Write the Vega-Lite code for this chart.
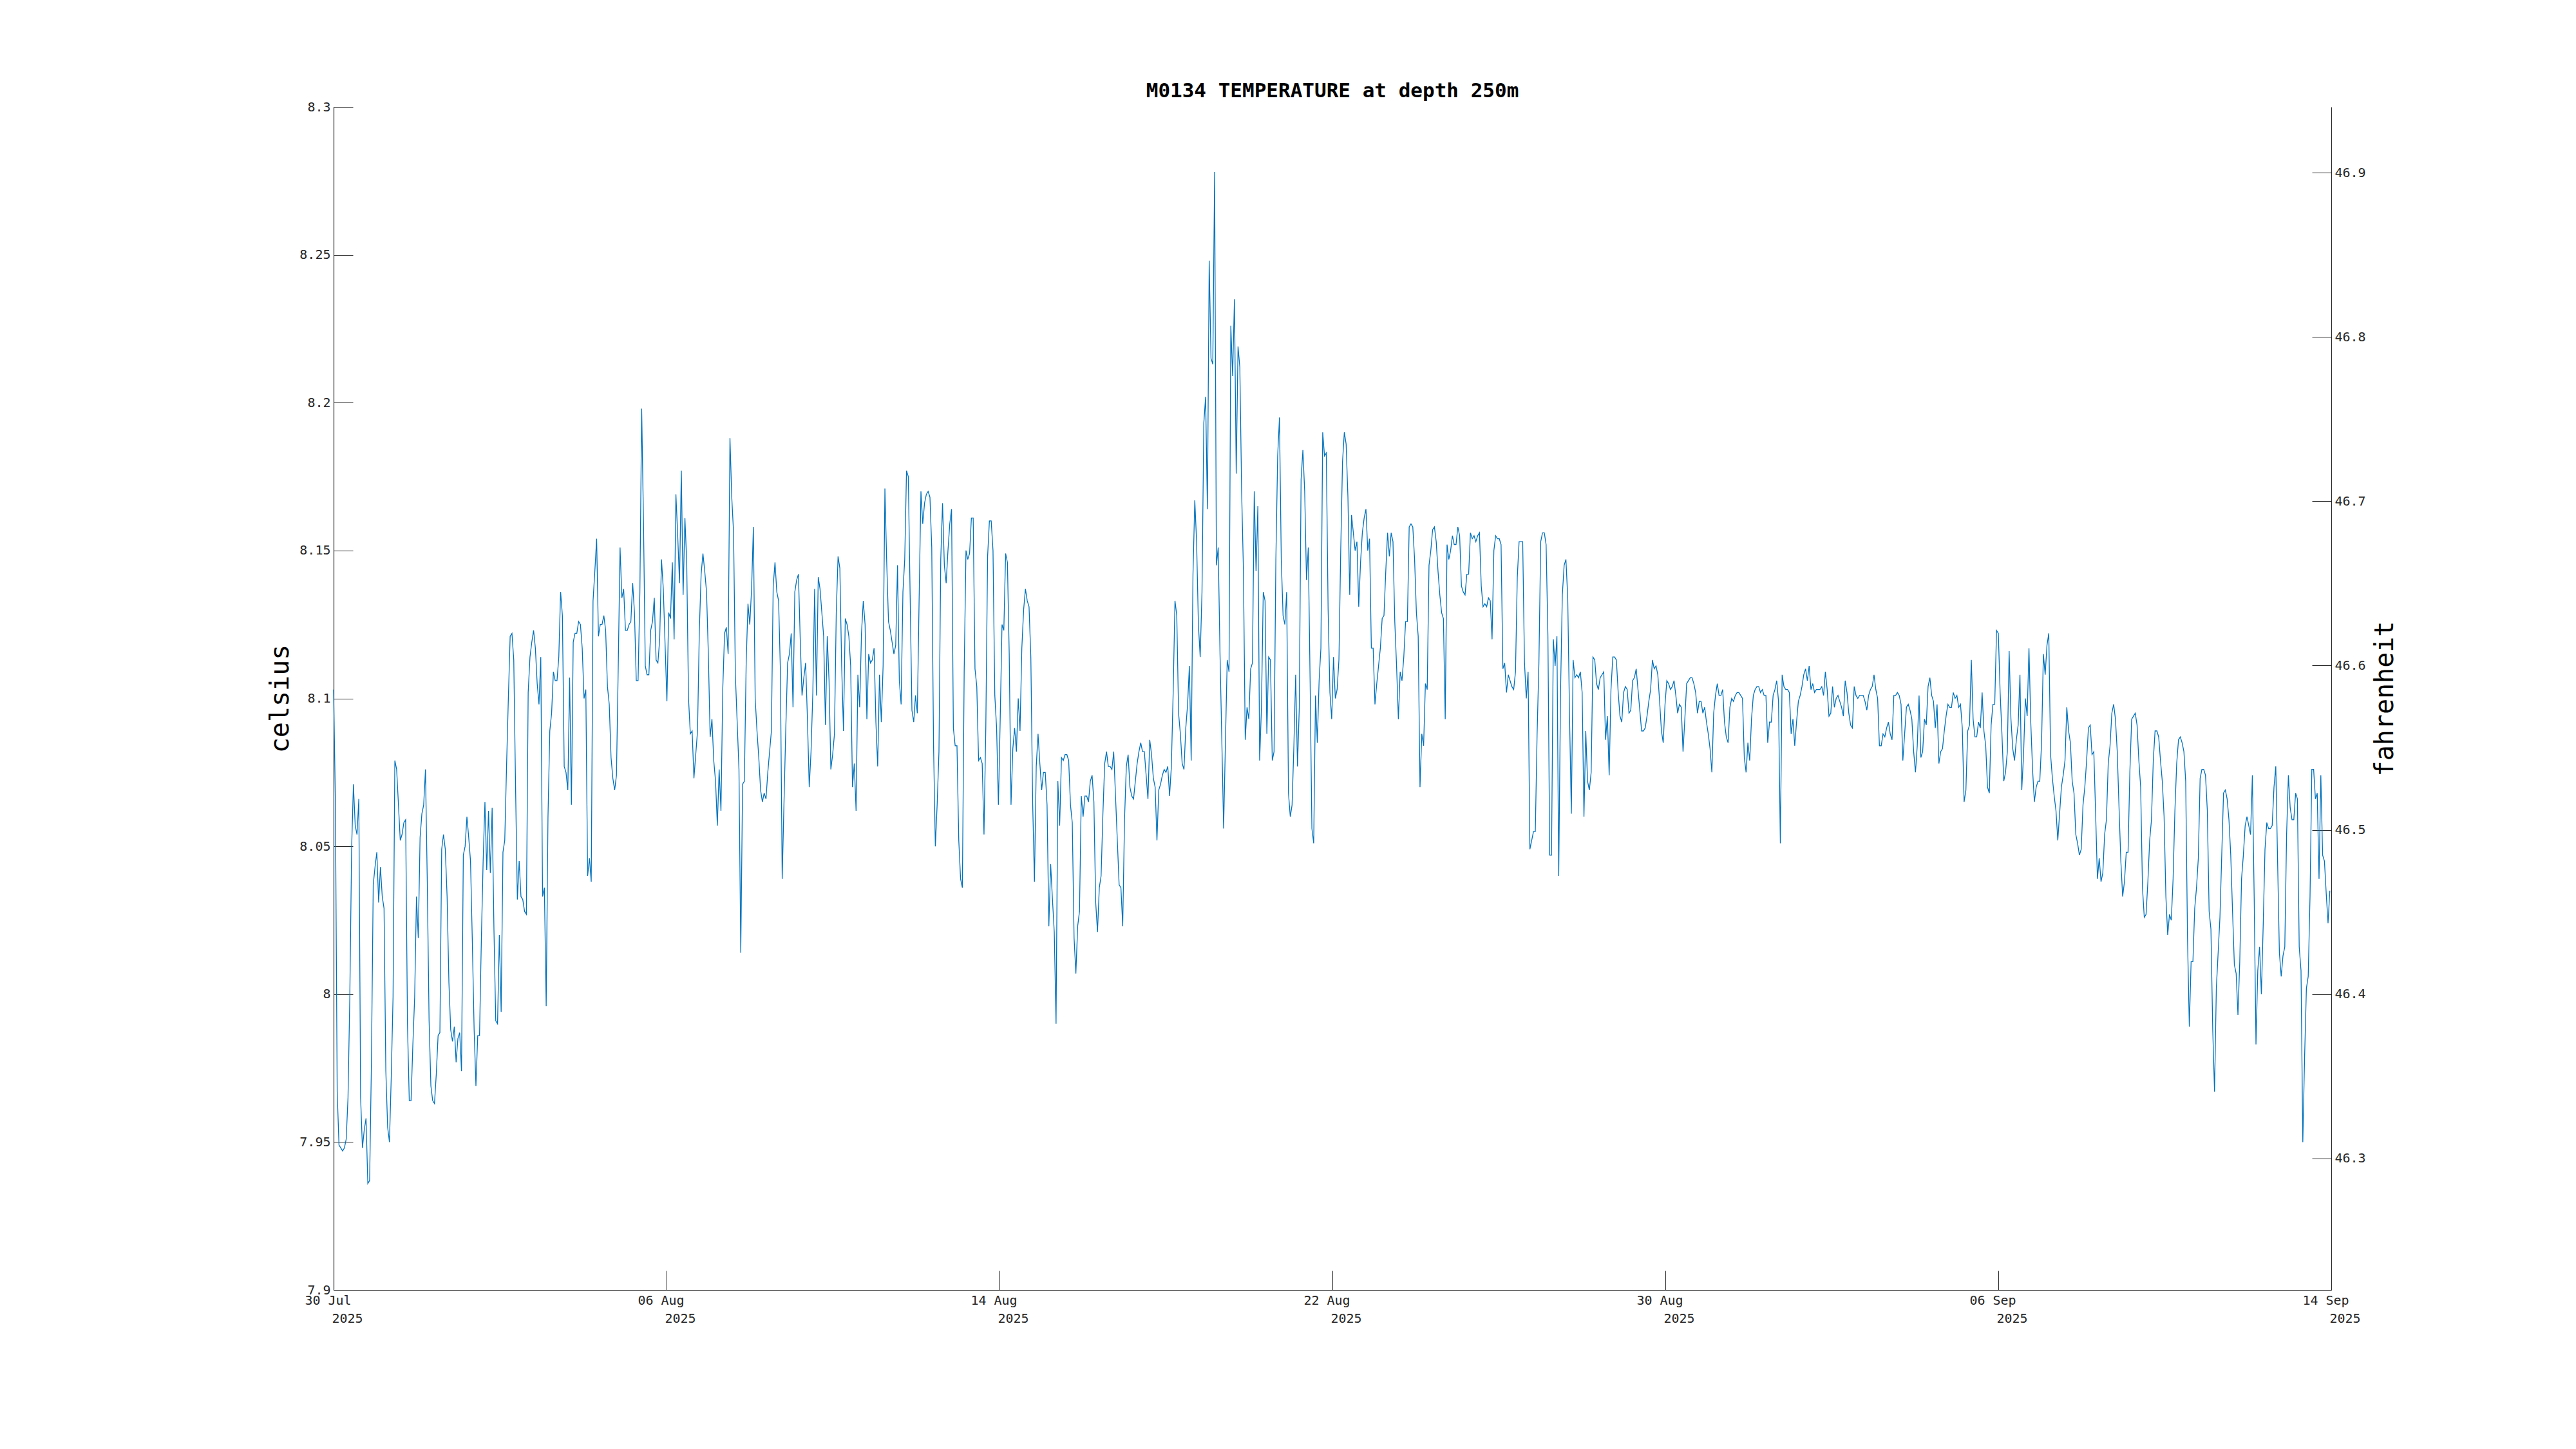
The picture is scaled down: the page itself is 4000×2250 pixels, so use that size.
{
"$schema":"https://vega.github.io/schema/vega-lite/v6.json",
"width":3102,"height":1837,
"autosize":{"type":"none"},
"padding":{"left":518,"top":166,"right":380,"bottom":247},
"background":"white",
"config":{"view":{"stroke":null},"font":"DejaVu Sans Mono"},
"title":{"text":"M0134 TEMPERATURE at depth 250m","font":"DejaVu Sans Mono","fontSize":31,"fontWeight":"bold","color":"#000000","anchor":"middle","frame":"group","baseline":"alphabetic","offset":-26},
"layer":[
{
"data":{"format":{"parse":{"t":"date:'%Y-%m-%d %H'"}},"values":[
{"t":"2025-07-30 06","c":8.103},{"t":"2025-07-30 07","c":8.065},{"t":"2025-07-30 08","c":7.967},{"t":"2025-07-30 09","c":7.949},{"t":"2025-07-30 10","c":7.948},{"t":"2025-07-30 11","c":7.947},{"t":"2025-07-30 12","c":7.948},{"t":"2025-07-30 13","c":7.951},{"t":"2025-07-30 14","c":7.965},{"t":"2025-07-30 15","c":7.999},{"t":"2025-07-30 16","c":8.049},{"t":"2025-07-30 17","c":8.071},{"t":"2025-07-30 18","c":8.057},{"t":"2025-07-30 19","c":8.054},{"t":"2025-07-30 20","c":8.066},{"t":"2025-07-30 21","c":7.965},{"t":"2025-07-30 22","c":7.948},{"t":"2025-07-30 23","c":7.954},
{"t":"2025-07-31 00","c":7.958},{"t":"2025-07-31 01","c":7.936},{"t":"2025-07-31 02","c":7.937},{"t":"2025-07-31 03","c":7.977},{"t":"2025-07-31 04","c":8.037},{"t":"2025-07-31 05","c":8.043},{"t":"2025-07-31 06","c":8.048},{"t":"2025-07-31 07","c":8.031},{"t":"2025-07-31 08","c":8.043},{"t":"2025-07-31 09","c":8.033},{"t":"2025-07-31 10","c":8.029},{"t":"2025-07-31 11","c":7.974},{"t":"2025-07-31 12","c":7.955},{"t":"2025-07-31 13","c":7.950},{"t":"2025-07-31 14","c":7.972},{"t":"2025-07-31 15","c":7.999},{"t":"2025-07-31 16","c":8.079},{"t":"2025-07-31 17","c":8.076},{"t":"2025-07-31 18","c":8.064},{"t":"2025-07-31 19","c":8.052},{"t":"2025-07-31 20","c":8.054},{"t":"2025-07-31 21","c":8.058},{"t":"2025-07-31 22","c":8.059},{"t":"2025-07-31 23","c":7.990},
{"t":"2025-08-01 00","c":7.964},{"t":"2025-08-01 01","c":7.964},{"t":"2025-08-01 02","c":7.983},{"t":"2025-08-01 03","c":7.999},{"t":"2025-08-01 04","c":8.033},{"t":"2025-08-01 05","c":8.019},{"t":"2025-08-01 06","c":8.053},{"t":"2025-08-01 07","c":8.061},{"t":"2025-08-01 08","c":8.064},{"t":"2025-08-01 09","c":8.076},{"t":"2025-08-01 10","c":8.038},{"t":"2025-08-01 11","c":7.991},{"t":"2025-08-01 12","c":7.969},{"t":"2025-08-01 13","c":7.964},{"t":"2025-08-01 14","c":7.963},{"t":"2025-08-01 15","c":7.973},{"t":"2025-08-01 16","c":7.986},{"t":"2025-08-01 17","c":7.987},{"t":"2025-08-01 18","c":8.049},{"t":"2025-08-01 19","c":8.054},{"t":"2025-08-01 20","c":8.049},{"t":"2025-08-01 21","c":8.033},{"t":"2025-08-01 22","c":8.004},{"t":"2025-08-01 23","c":7.988},
{"t":"2025-08-02 00","c":7.984},{"t":"2025-08-02 01","c":7.989},{"t":"2025-08-02 02","c":7.977},{"t":"2025-08-02 03","c":7.985},{"t":"2025-08-02 04","c":7.987},{"t":"2025-08-02 05","c":7.974},{"t":"2025-08-02 06","c":8.047},{"t":"2025-08-02 07","c":8.050},{"t":"2025-08-02 08","c":8.060},{"t":"2025-08-02 09","c":8.053},{"t":"2025-08-02 10","c":8.045},{"t":"2025-08-02 11","c":8.018},{"t":"2025-08-02 12","c":7.988},{"t":"2025-08-02 13","c":7.969},{"t":"2025-08-02 14","c":7.986},{"t":"2025-08-02 15","c":7.986},{"t":"2025-08-02 16","c":8.018},{"t":"2025-08-02 17","c":8.045},{"t":"2025-08-02 18","c":8.065},{"t":"2025-08-02 19","c":8.042},{"t":"2025-08-02 20","c":8.062},{"t":"2025-08-02 21","c":8.041},{"t":"2025-08-02 22","c":8.063},{"t":"2025-08-02 23","c":8.022},
{"t":"2025-08-03 00","c":7.991},{"t":"2025-08-03 01","c":7.990},{"t":"2025-08-03 02","c":8.020},{"t":"2025-08-03 03","c":7.994},{"t":"2025-08-03 04","c":8.048},{"t":"2025-08-03 05","c":8.052},{"t":"2025-08-03 06","c":8.077},{"t":"2025-08-03 07","c":8.100},{"t":"2025-08-03 08","c":8.121},{"t":"2025-08-03 09","c":8.122},{"t":"2025-08-03 10","c":8.113},{"t":"2025-08-03 11","c":8.070},{"t":"2025-08-03 12","c":8.032},{"t":"2025-08-03 13","c":8.045},{"t":"2025-08-03 14","c":8.033},{"t":"2025-08-03 15","c":8.032},{"t":"2025-08-03 16","c":8.028},{"t":"2025-08-03 17","c":8.027},{"t":"2025-08-03 18","c":8.102},{"t":"2025-08-03 19","c":8.114},{"t":"2025-08-03 20","c":8.119},{"t":"2025-08-03 21","c":8.123},{"t":"2025-08-03 22","c":8.117},{"t":"2025-08-03 23","c":8.105},
{"t":"2025-08-04 00","c":8.098},{"t":"2025-08-04 01","c":8.114},{"t":"2025-08-04 02","c":8.033},{"t":"2025-08-04 03","c":8.036},{"t":"2025-08-04 04","c":7.996},{"t":"2025-08-04 05","c":8.060},{"t":"2025-08-04 06","c":8.089},{"t":"2025-08-04 07","c":8.095},{"t":"2025-08-04 08","c":8.109},{"t":"2025-08-04 09","c":8.106},{"t":"2025-08-04 10","c":8.106},{"t":"2025-08-04 11","c":8.114},{"t":"2025-08-04 12","c":8.136},{"t":"2025-08-04 13","c":8.128},{"t":"2025-08-04 14","c":8.077},{"t":"2025-08-04 15","c":8.075},{"t":"2025-08-04 16","c":8.069},{"t":"2025-08-04 17","c":8.107},{"t":"2025-08-04 18","c":8.064},{"t":"2025-08-04 19","c":8.119},{"t":"2025-08-04 20","c":8.122},{"t":"2025-08-04 21","c":8.122},{"t":"2025-08-04 22","c":8.126},{"t":"2025-08-04 23","c":8.125},
{"t":"2025-08-05 00","c":8.117},{"t":"2025-08-05 01","c":8.100},{"t":"2025-08-05 02","c":8.103},{"t":"2025-08-05 03","c":8.040},{"t":"2025-08-05 04","c":8.046},{"t":"2025-08-05 05","c":8.038},{"t":"2025-08-05 06","c":8.133},{"t":"2025-08-05 07","c":8.143},{"t":"2025-08-05 08","c":8.154},{"t":"2025-08-05 09","c":8.121},{"t":"2025-08-05 10","c":8.125},{"t":"2025-08-05 11","c":8.125},{"t":"2025-08-05 12","c":8.128},{"t":"2025-08-05 13","c":8.123},{"t":"2025-08-05 14","c":8.104},{"t":"2025-08-05 15","c":8.098},{"t":"2025-08-05 16","c":8.080},{"t":"2025-08-05 17","c":8.073},{"t":"2025-08-05 18","c":8.069},{"t":"2025-08-05 19","c":8.074},{"t":"2025-08-05 20","c":8.111},{"t":"2025-08-05 21","c":8.151},{"t":"2025-08-05 22","c":8.134},{"t":"2025-08-05 23","c":8.137},
{"t":"2025-08-06 00","c":8.123},{"t":"2025-08-06 01","c":8.123},{"t":"2025-08-06 02","c":8.125},{"t":"2025-08-06 03","c":8.126},{"t":"2025-08-06 04","c":8.139},{"t":"2025-08-06 05","c":8.129},{"t":"2025-08-06 06","c":8.106},{"t":"2025-08-06 07","c":8.106},{"t":"2025-08-06 08","c":8.136},{"t":"2025-08-06 09","c":8.198},{"t":"2025-08-06 10","c":8.160},{"t":"2025-08-06 11","c":8.111},{"t":"2025-08-06 12","c":8.108},{"t":"2025-08-06 13","c":8.108},{"t":"2025-08-06 14","c":8.123},{"t":"2025-08-06 15","c":8.126},{"t":"2025-08-06 16","c":8.134},{"t":"2025-08-06 17","c":8.113},{"t":"2025-08-06 18","c":8.112},{"t":"2025-08-06 19","c":8.120},{"t":"2025-08-06 20","c":8.147},{"t":"2025-08-06 21","c":8.137},{"t":"2025-08-06 22","c":8.118},{"t":"2025-08-06 23","c":8.099},
{"t":"2025-08-07 00","c":8.129},{"t":"2025-08-07 01","c":8.127},{"t":"2025-08-07 02","c":8.146},{"t":"2025-08-07 03","c":8.120},{"t":"2025-08-07 04","c":8.169},{"t":"2025-08-07 05","c":8.155},{"t":"2025-08-07 06","c":8.139},{"t":"2025-08-07 07","c":8.177},{"t":"2025-08-07 08","c":8.135},{"t":"2025-08-07 09","c":8.161},{"t":"2025-08-07 10","c":8.146},{"t":"2025-08-07 11","c":8.100},{"t":"2025-08-07 12","c":8.088},{"t":"2025-08-07 13","c":8.089},{"t":"2025-08-07 14","c":8.073},{"t":"2025-08-07 15","c":8.081},{"t":"2025-08-07 16","c":8.089},{"t":"2025-08-07 17","c":8.123},{"t":"2025-08-07 18","c":8.142},{"t":"2025-08-07 19","c":8.149},{"t":"2025-08-07 20","c":8.143},{"t":"2025-08-07 21","c":8.136},{"t":"2025-08-07 22","c":8.115},{"t":"2025-08-07 23","c":8.087},
{"t":"2025-08-08 00","c":8.093},{"t":"2025-08-08 01","c":8.079},{"t":"2025-08-08 02","c":8.072},{"t":"2025-08-08 03","c":8.057},{"t":"2025-08-08 04","c":8.076},{"t":"2025-08-08 05","c":8.062},{"t":"2025-08-08 06","c":8.103},{"t":"2025-08-08 07","c":8.122},{"t":"2025-08-08 08","c":8.124},{"t":"2025-08-08 09","c":8.115},{"t":"2025-08-08 10","c":8.188},{"t":"2025-08-08 11","c":8.168},{"t":"2025-08-08 12","c":8.156},{"t":"2025-08-08 13","c":8.108},{"t":"2025-08-08 14","c":8.092},{"t":"2025-08-08 15","c":8.076},{"t":"2025-08-08 16","c":8.014},{"t":"2025-08-08 17","c":8.071},{"t":"2025-08-08 18","c":8.072},{"t":"2025-08-08 19","c":8.112},{"t":"2025-08-08 20","c":8.132},{"t":"2025-08-08 21","c":8.125},{"t":"2025-08-08 22","c":8.137},{"t":"2025-08-08 23","c":8.158},
{"t":"2025-08-09 00","c":8.100},{"t":"2025-08-09 01","c":8.089},{"t":"2025-08-09 02","c":8.080},{"t":"2025-08-09 03","c":8.069},{"t":"2025-08-09 04","c":8.065},{"t":"2025-08-09 05","c":8.068},{"t":"2025-08-09 06","c":8.066},{"t":"2025-08-09 07","c":8.075},{"t":"2025-08-09 08","c":8.082},{"t":"2025-08-09 09","c":8.089},{"t":"2025-08-09 10","c":8.138},{"t":"2025-08-09 11","c":8.146},{"t":"2025-08-09 12","c":8.136},{"t":"2025-08-09 13","c":8.133},{"t":"2025-08-09 14","c":8.109},{"t":"2025-08-09 15","c":8.039},{"t":"2025-08-09 16","c":8.065},{"t":"2025-08-09 17","c":8.090},{"t":"2025-08-09 18","c":8.112},{"t":"2025-08-09 19","c":8.115},{"t":"2025-08-09 20","c":8.122},{"t":"2025-08-09 21","c":8.097},{"t":"2025-08-09 22","c":8.136},{"t":"2025-08-09 23","c":8.140},
{"t":"2025-08-10 00","c":8.142},{"t":"2025-08-10 01","c":8.120},{"t":"2025-08-10 02","c":8.101},{"t":"2025-08-10 03","c":8.107},{"t":"2025-08-10 04","c":8.112},{"t":"2025-08-10 05","c":8.093},{"t":"2025-08-10 06","c":8.070},{"t":"2025-08-10 07","c":8.082},{"t":"2025-08-10 08","c":8.102},{"t":"2025-08-10 09","c":8.137},{"t":"2025-08-10 10","c":8.101},{"t":"2025-08-10 11","c":8.141},{"t":"2025-08-10 12","c":8.137},{"t":"2025-08-10 13","c":8.129},{"t":"2025-08-10 14","c":8.121},{"t":"2025-08-10 15","c":8.091},{"t":"2025-08-10 16","c":8.121},{"t":"2025-08-10 17","c":8.106},{"t":"2025-08-10 18","c":8.076},{"t":"2025-08-10 19","c":8.081},{"t":"2025-08-10 20","c":8.088},{"t":"2025-08-10 21","c":8.129},{"t":"2025-08-10 22","c":8.148},{"t":"2025-08-10 23","c":8.144},
{"t":"2025-08-11 00","c":8.111},{"t":"2025-08-11 01","c":8.089},{"t":"2025-08-11 02","c":8.127},{"t":"2025-08-11 03","c":8.125},{"t":"2025-08-11 04","c":8.121},{"t":"2025-08-11 05","c":8.111},{"t":"2025-08-11 06","c":8.070},{"t":"2025-08-11 07","c":8.078},{"t":"2025-08-11 08","c":8.062},{"t":"2025-08-11 09","c":8.108},{"t":"2025-08-11 10","c":8.097},{"t":"2025-08-11 11","c":8.122},{"t":"2025-08-11 12","c":8.133},{"t":"2025-08-11 13","c":8.125},{"t":"2025-08-11 14","c":8.093},{"t":"2025-08-11 15","c":8.115},{"t":"2025-08-11 16","c":8.112},{"t":"2025-08-11 17","c":8.113},{"t":"2025-08-11 18","c":8.117},{"t":"2025-08-11 19","c":8.092},{"t":"2025-08-11 20","c":8.077},{"t":"2025-08-11 21","c":8.108},{"t":"2025-08-11 22","c":8.092},{"t":"2025-08-11 23","c":8.111},
{"t":"2025-08-12 00","c":8.171},{"t":"2025-08-12 01","c":8.146},{"t":"2025-08-12 02","c":8.126},{"t":"2025-08-12 03","c":8.123},{"t":"2025-08-12 04","c":8.119},{"t":"2025-08-12 05","c":8.115},{"t":"2025-08-12 06","c":8.118},{"t":"2025-08-12 07","c":8.145},{"t":"2025-08-12 08","c":8.106},{"t":"2025-08-12 09","c":8.098},{"t":"2025-08-12 10","c":8.136},{"t":"2025-08-12 11","c":8.147},{"t":"2025-08-12 12","c":8.177},{"t":"2025-08-12 13","c":8.175},{"t":"2025-08-12 14","c":8.135},{"t":"2025-08-12 15","c":8.096},{"t":"2025-08-12 16","c":8.092},{"t":"2025-08-12 17","c":8.101},{"t":"2025-08-12 18","c":8.095},{"t":"2025-08-12 19","c":8.134},{"t":"2025-08-12 20","c":8.170},{"t":"2025-08-12 21","c":8.159},{"t":"2025-08-12 22","c":8.166},{"t":"2025-08-12 23","c":8.169},
{"t":"2025-08-13 00","c":8.170},{"t":"2025-08-13 01","c":8.168},{"t":"2025-08-13 02","c":8.151},{"t":"2025-08-13 03","c":8.084},{"t":"2025-08-13 04","c":8.050},{"t":"2025-08-13 05","c":8.064},{"t":"2025-08-13 06","c":8.082},{"t":"2025-08-13 07","c":8.147},{"t":"2025-08-13 08","c":8.166},{"t":"2025-08-13 09","c":8.145},{"t":"2025-08-13 10","c":8.139},{"t":"2025-08-13 11","c":8.150},{"t":"2025-08-13 12","c":8.159},{"t":"2025-08-13 13","c":8.164},{"t":"2025-08-13 14","c":8.090},{"t":"2025-08-13 15","c":8.084},{"t":"2025-08-13 16","c":8.084},{"t":"2025-08-13 17","c":8.052},{"t":"2025-08-13 18","c":8.039},{"t":"2025-08-13 19","c":8.036},{"t":"2025-08-13 20","c":8.109},{"t":"2025-08-13 21","c":8.150},{"t":"2025-08-13 22","c":8.147},{"t":"2025-08-13 23","c":8.149},
{"t":"2025-08-14 00","c":8.161},{"t":"2025-08-14 01","c":8.161},{"t":"2025-08-14 02","c":8.110},{"t":"2025-08-14 03","c":8.104},{"t":"2025-08-14 04","c":8.079},{"t":"2025-08-14 05","c":8.080},{"t":"2025-08-14 06","c":8.078},{"t":"2025-08-14 07","c":8.054},{"t":"2025-08-14 08","c":8.090},{"t":"2025-08-14 09","c":8.148},{"t":"2025-08-14 10","c":8.160},{"t":"2025-08-14 11","c":8.160},{"t":"2025-08-14 12","c":8.150},{"t":"2025-08-14 13","c":8.101},{"t":"2025-08-14 14","c":8.090},{"t":"2025-08-14 15","c":8.064},{"t":"2025-08-14 16","c":8.093},{"t":"2025-08-14 17","c":8.125},{"t":"2025-08-14 18","c":8.123},{"t":"2025-08-14 19","c":8.149},{"t":"2025-08-14 20","c":8.146},{"t":"2025-08-14 21","c":8.115},{"t":"2025-08-14 22","c":8.064},{"t":"2025-08-14 23","c":8.083},
{"t":"2025-08-15 00","c":8.090},{"t":"2025-08-15 01","c":8.082},{"t":"2025-08-15 02","c":8.100},{"t":"2025-08-15 03","c":8.089},{"t":"2025-08-15 04","c":8.117},{"t":"2025-08-15 05","c":8.130},{"t":"2025-08-15 06","c":8.137},{"t":"2025-08-15 07","c":8.133},{"t":"2025-08-15 08","c":8.131},{"t":"2025-08-15 09","c":8.114},{"t":"2025-08-15 10","c":8.065},{"t":"2025-08-15 11","c":8.038},{"t":"2025-08-15 12","c":8.077},{"t":"2025-08-15 13","c":8.088},{"t":"2025-08-15 14","c":8.078},{"t":"2025-08-15 15","c":8.069},{"t":"2025-08-15 16","c":8.075},{"t":"2025-08-15 17","c":8.075},{"t":"2025-08-15 18","c":8.064},{"t":"2025-08-15 19","c":8.023},{"t":"2025-08-15 20","c":8.044},{"t":"2025-08-15 21","c":8.032},{"t":"2025-08-15 22","c":8.021},{"t":"2025-08-15 23","c":7.990},
{"t":"2025-08-16 00","c":8.072},{"t":"2025-08-16 01","c":8.057},{"t":"2025-08-16 02","c":8.080},{"t":"2025-08-16 03","c":8.079},{"t":"2025-08-16 04","c":8.081},{"t":"2025-08-16 05","c":8.081},{"t":"2025-08-16 06","c":8.079},{"t":"2025-08-16 07","c":8.064},{"t":"2025-08-16 08","c":8.058},{"t":"2025-08-16 09","c":8.019},{"t":"2025-08-16 10","c":8.007},{"t":"2025-08-16 11","c":8.023},{"t":"2025-08-16 12","c":8.028},{"t":"2025-08-16 13","c":8.067},{"t":"2025-08-16 14","c":8.060},{"t":"2025-08-16 15","c":8.067},{"t":"2025-08-16 16","c":8.067},{"t":"2025-08-16 17","c":8.065},{"t":"2025-08-16 18","c":8.072},{"t":"2025-08-16 19","c":8.074},{"t":"2025-08-16 20","c":8.065},{"t":"2025-08-16 21","c":8.031},{"t":"2025-08-16 22","c":8.021},{"t":"2025-08-16 23","c":8.036},
{"t":"2025-08-17 00","c":8.040},{"t":"2025-08-17 01","c":8.061},{"t":"2025-08-17 02","c":8.078},{"t":"2025-08-17 03","c":8.082},{"t":"2025-08-17 04","c":8.077},{"t":"2025-08-17 05","c":8.077},{"t":"2025-08-17 06","c":8.076},{"t":"2025-08-17 07","c":8.082},{"t":"2025-08-17 08","c":8.067},{"t":"2025-08-17 09","c":8.052},{"t":"2025-08-17 10","c":8.037},{"t":"2025-08-17 11","c":8.036},{"t":"2025-08-17 12","c":8.023},{"t":"2025-08-17 13","c":8.059},{"t":"2025-08-17 14","c":8.077},{"t":"2025-08-17 15","c":8.081},{"t":"2025-08-17 16","c":8.070},{"t":"2025-08-17 17","c":8.067},{"t":"2025-08-17 18","c":8.066},{"t":"2025-08-17 19","c":8.072},{"t":"2025-08-17 20","c":8.078},{"t":"2025-08-17 21","c":8.082},{"t":"2025-08-17 22","c":8.085},{"t":"2025-08-17 23","c":8.082},
{"t":"2025-08-18 00","c":8.082},{"t":"2025-08-18 01","c":8.074},{"t":"2025-08-18 02","c":8.066},{"t":"2025-08-18 03","c":8.086},{"t":"2025-08-18 04","c":8.081},{"t":"2025-08-18 05","c":8.073},{"t":"2025-08-18 06","c":8.070},{"t":"2025-08-18 07","c":8.052},{"t":"2025-08-18 08","c":8.069},{"t":"2025-08-18 09","c":8.071},{"t":"2025-08-18 10","c":8.074},{"t":"2025-08-18 11","c":8.076},{"t":"2025-08-18 12","c":8.075},{"t":"2025-08-18 13","c":8.077},{"t":"2025-08-18 14","c":8.067},{"t":"2025-08-18 15","c":8.077},{"t":"2025-08-18 16","c":8.102},{"t":"2025-08-18 17","c":8.133},{"t":"2025-08-18 18","c":8.128},{"t":"2025-08-18 19","c":8.095},{"t":"2025-08-18 20","c":8.088},{"t":"2025-08-18 21","c":8.078},{"t":"2025-08-18 22","c":8.076},{"t":"2025-08-18 23","c":8.090},
{"t":"2025-08-19 00","c":8.098},{"t":"2025-08-19 01","c":8.111},{"t":"2025-08-19 02","c":8.079},{"t":"2025-08-19 03","c":8.142},{"t":"2025-08-19 04","c":8.167},{"t":"2025-08-19 05","c":8.153},{"t":"2025-08-19 06","c":8.125},{"t":"2025-08-19 07","c":8.114},{"t":"2025-08-19 08","c":8.136},{"t":"2025-08-19 09","c":8.193},{"t":"2025-08-19 10","c":8.202},{"t":"2025-08-19 11","c":8.164},{"t":"2025-08-19 12","c":8.248},{"t":"2025-08-19 13","c":8.215},{"t":"2025-08-19 14","c":8.213},{"t":"2025-08-19 15","c":8.278},{"t":"2025-08-19 16","c":8.145},{"t":"2025-08-19 17","c":8.151},{"t":"2025-08-19 18","c":8.115},{"t":"2025-08-19 19","c":8.086},{"t":"2025-08-19 20","c":8.056},{"t":"2025-08-19 21","c":8.085},{"t":"2025-08-19 22","c":8.113},{"t":"2025-08-19 23","c":8.109},
{"t":"2025-08-20 00","c":8.226},{"t":"2025-08-20 01","c":8.209},{"t":"2025-08-20 02","c":8.235},{"t":"2025-08-20 03","c":8.176},{"t":"2025-08-20 04","c":8.219},{"t":"2025-08-20 05","c":8.212},{"t":"2025-08-20 06","c":8.170},{"t":"2025-08-20 07","c":8.143},{"t":"2025-08-20 08","c":8.086},{"t":"2025-08-20 09","c":8.097},{"t":"2025-08-20 10","c":8.093},{"t":"2025-08-20 11","c":8.110},{"t":"2025-08-20 12","c":8.112},{"t":"2025-08-20 13","c":8.170},{"t":"2025-08-20 14","c":8.143},{"t":"2025-08-20 15","c":8.165},{"t":"2025-08-20 16","c":8.079},{"t":"2025-08-20 17","c":8.097},{"t":"2025-08-20 18","c":8.136},{"t":"2025-08-20 19","c":8.133},{"t":"2025-08-20 20","c":8.088},{"t":"2025-08-20 21","c":8.114},{"t":"2025-08-20 22","c":8.113},{"t":"2025-08-20 23","c":8.079},
{"t":"2025-08-21 00","c":8.082},{"t":"2025-08-21 01","c":8.147},{"t":"2025-08-21 02","c":8.182},{"t":"2025-08-21 03","c":8.195},{"t":"2025-08-21 04","c":8.147},{"t":"2025-08-21 05","c":8.128},{"t":"2025-08-21 06","c":8.125},{"t":"2025-08-21 07","c":8.136},{"t":"2025-08-21 08","c":8.068},{"t":"2025-08-21 09","c":8.060},{"t":"2025-08-21 10","c":8.064},{"t":"2025-08-21 11","c":8.084},{"t":"2025-08-21 12","c":8.108},{"t":"2025-08-21 13","c":8.077},{"t":"2025-08-21 14","c":8.097},{"t":"2025-08-21 15","c":8.174},{"t":"2025-08-21 16","c":8.184},{"t":"2025-08-21 17","c":8.170},{"t":"2025-08-21 18","c":8.140},{"t":"2025-08-21 19","c":8.151},{"t":"2025-08-21 20","c":8.106},{"t":"2025-08-21 21","c":8.056},{"t":"2025-08-21 22","c":8.051},{"t":"2025-08-21 23","c":8.101},
{"t":"2025-08-22 00","c":8.085},{"t":"2025-08-22 01","c":8.106},{"t":"2025-08-22 02","c":8.117},{"t":"2025-08-22 03","c":8.190},{"t":"2025-08-22 04","c":8.182},{"t":"2025-08-22 05","c":8.183},{"t":"2025-08-22 06","c":8.130},{"t":"2025-08-22 07","c":8.102},{"t":"2025-08-22 08","c":8.093},{"t":"2025-08-22 09","c":8.114},{"t":"2025-08-22 10","c":8.100},{"t":"2025-08-22 11","c":8.103},{"t":"2025-08-22 12","c":8.113},{"t":"2025-08-22 13","c":8.150},{"t":"2025-08-22 14","c":8.180},{"t":"2025-08-22 15","c":8.190},{"t":"2025-08-22 16","c":8.186},{"t":"2025-08-22 17","c":8.168},{"t":"2025-08-22 18","c":8.135},{"t":"2025-08-22 19","c":8.162},{"t":"2025-08-22 20","c":8.156},{"t":"2025-08-22 21","c":8.150},{"t":"2025-08-22 22","c":8.153},{"t":"2025-08-22 23","c":8.131},
{"t":"2025-08-23 00","c":8.146},{"t":"2025-08-23 01","c":8.156},{"t":"2025-08-23 02","c":8.161},{"t":"2025-08-23 03","c":8.164},{"t":"2025-08-23 04","c":8.150},{"t":"2025-08-23 05","c":8.154},{"t":"2025-08-23 06","c":8.117},{"t":"2025-08-23 07","c":8.117},{"t":"2025-08-23 08","c":8.098},{"t":"2025-08-23 09","c":8.105},{"t":"2025-08-23 10","c":8.111},{"t":"2025-08-23 11","c":8.117},{"t":"2025-08-23 12","c":8.127},{"t":"2025-08-23 13","c":8.128},{"t":"2025-08-23 14","c":8.143},{"t":"2025-08-23 15","c":8.156},{"t":"2025-08-23 16","c":8.148},{"t":"2025-08-23 17","c":8.156},{"t":"2025-08-23 18","c":8.153},{"t":"2025-08-23 19","c":8.126},{"t":"2025-08-23 20","c":8.111},{"t":"2025-08-23 21","c":8.093},{"t":"2025-08-23 22","c":8.109},{"t":"2025-08-23 23","c":8.106},
{"t":"2025-08-24 00","c":8.114},{"t":"2025-08-24 01","c":8.126},{"t":"2025-08-24 02","c":8.126},{"t":"2025-08-24 03","c":8.158},{"t":"2025-08-24 04","c":8.159},{"t":"2025-08-24 05","c":8.158},{"t":"2025-08-24 06","c":8.147},{"t":"2025-08-24 07","c":8.129},{"t":"2025-08-24 08","c":8.121},{"t":"2025-08-24 09","c":8.070},{"t":"2025-08-24 10","c":8.088},{"t":"2025-08-24 11","c":8.084},{"t":"2025-08-24 12","c":8.105},{"t":"2025-08-24 13","c":8.103},{"t":"2025-08-24 14","c":8.145},{"t":"2025-08-24 15","c":8.150},{"t":"2025-08-24 16","c":8.157},{"t":"2025-08-24 17","c":8.158},{"t":"2025-08-24 18","c":8.153},{"t":"2025-08-24 19","c":8.143},{"t":"2025-08-24 20","c":8.135},{"t":"2025-08-24 21","c":8.129},{"t":"2025-08-24 22","c":8.127},{"t":"2025-08-24 23","c":8.093},
{"t":"2025-08-25 00","c":8.152},{"t":"2025-08-25 01","c":8.147},{"t":"2025-08-25 02","c":8.150},{"t":"2025-08-25 03","c":8.155},{"t":"2025-08-25 04","c":8.152},{"t":"2025-08-25 05","c":8.152},{"t":"2025-08-25 06","c":8.158},{"t":"2025-08-25 07","c":8.155},{"t":"2025-08-25 08","c":8.138},{"t":"2025-08-25 09","c":8.136},{"t":"2025-08-25 10","c":8.135},{"t":"2025-08-25 11","c":8.142},{"t":"2025-08-25 12","c":8.142},{"t":"2025-08-25 13","c":8.156},{"t":"2025-08-25 14","c":8.154},{"t":"2025-08-25 15","c":8.155},{"t":"2025-08-25 16","c":8.153},{"t":"2025-08-25 17","c":8.155},{"t":"2025-08-25 18","c":8.156},{"t":"2025-08-25 19","c":8.138},{"t":"2025-08-25 20","c":8.131},{"t":"2025-08-25 21","c":8.132},{"t":"2025-08-25 22","c":8.131},{"t":"2025-08-25 23","c":8.134},
{"t":"2025-08-26 00","c":8.133},{"t":"2025-08-26 01","c":8.120},{"t":"2025-08-26 02","c":8.150},{"t":"2025-08-26 03","c":8.155},{"t":"2025-08-26 04","c":8.154},{"t":"2025-08-26 05","c":8.154},{"t":"2025-08-26 06","c":8.152},{"t":"2025-08-26 07","c":8.110},{"t":"2025-08-26 08","c":8.112},{"t":"2025-08-26 09","c":8.102},{"t":"2025-08-26 10","c":8.108},{"t":"2025-08-26 11","c":8.106},{"t":"2025-08-26 12","c":8.104},{"t":"2025-08-26 13","c":8.103},{"t":"2025-08-26 14","c":8.109},{"t":"2025-08-26 15","c":8.141},{"t":"2025-08-26 16","c":8.153},{"t":"2025-08-26 17","c":8.153},{"t":"2025-08-26 18","c":8.153},{"t":"2025-08-26 19","c":8.112},{"t":"2025-08-26 20","c":8.100},{"t":"2025-08-26 21","c":8.109},{"t":"2025-08-26 22","c":8.049},{"t":"2025-08-26 23","c":8.052},
{"t":"2025-08-27 00","c":8.055},{"t":"2025-08-27 01","c":8.055},{"t":"2025-08-27 02","c":8.088},{"t":"2025-08-27 03","c":8.112},{"t":"2025-08-27 04","c":8.153},{"t":"2025-08-27 05","c":8.156},{"t":"2025-08-27 06","c":8.156},{"t":"2025-08-27 07","c":8.152},{"t":"2025-08-27 08","c":8.121},{"t":"2025-08-27 09","c":8.047},{"t":"2025-08-27 10","c":8.047},{"t":"2025-08-27 11","c":8.120},{"t":"2025-08-27 12","c":8.111},{"t":"2025-08-27 13","c":8.121},{"t":"2025-08-27 14","c":8.040},{"t":"2025-08-27 15","c":8.102},{"t":"2025-08-27 16","c":8.135},{"t":"2025-08-27 17","c":8.145},{"t":"2025-08-27 18","c":8.147},{"t":"2025-08-27 19","c":8.134},{"t":"2025-08-27 20","c":8.094},{"t":"2025-08-27 21","c":8.061},{"t":"2025-08-27 22","c":8.113},{"t":"2025-08-27 23","c":8.107},
{"t":"2025-08-28 00","c":8.108},{"t":"2025-08-28 01","c":8.107},{"t":"2025-08-28 02","c":8.109},{"t":"2025-08-28 03","c":8.102},{"t":"2025-08-28 04","c":8.060},{"t":"2025-08-28 05","c":8.089},{"t":"2025-08-28 06","c":8.072},{"t":"2025-08-28 07","c":8.069},{"t":"2025-08-28 08","c":8.075},{"t":"2025-08-28 09","c":8.114},{"t":"2025-08-28 10","c":8.113},{"t":"2025-08-28 11","c":8.105},{"t":"2025-08-28 12","c":8.103},{"t":"2025-08-28 13","c":8.107},{"t":"2025-08-28 14","c":8.108},{"t":"2025-08-28 15","c":8.109},{"t":"2025-08-28 16","c":8.086},{"t":"2025-08-28 17","c":8.094},{"t":"2025-08-28 18","c":8.074},{"t":"2025-08-28 19","c":8.103},{"t":"2025-08-28 20","c":8.114},{"t":"2025-08-28 21","c":8.114},{"t":"2025-08-28 22","c":8.113},{"t":"2025-08-28 23","c":8.102},
{"t":"2025-08-29 00","c":8.094},{"t":"2025-08-29 01","c":8.092},{"t":"2025-08-29 02","c":8.102},{"t":"2025-08-29 03","c":8.104},{"t":"2025-08-29 04","c":8.103},{"t":"2025-08-29 05","c":8.095},{"t":"2025-08-29 06","c":8.096},{"t":"2025-08-29 07","c":8.106},{"t":"2025-08-29 08","c":8.107},{"t":"2025-08-29 09","c":8.110},{"t":"2025-08-29 10","c":8.103},{"t":"2025-08-29 11","c":8.096},{"t":"2025-08-29 12","c":8.089},{"t":"2025-08-29 13","c":8.089},{"t":"2025-08-29 14","c":8.090},{"t":"2025-08-29 15","c":8.094},{"t":"2025-08-29 16","c":8.099},{"t":"2025-08-29 17","c":8.103},{"t":"2025-08-29 18","c":8.113},{"t":"2025-08-29 19","c":8.110},{"t":"2025-08-29 20","c":8.111},{"t":"2025-08-29 21","c":8.108},{"t":"2025-08-29 22","c":8.099},{"t":"2025-08-29 23","c":8.089},
{"t":"2025-08-30 00","c":8.085},{"t":"2025-08-30 01","c":8.098},{"t":"2025-08-30 02","c":8.106},{"t":"2025-08-30 03","c":8.105},{"t":"2025-08-30 04","c":8.103},{"t":"2025-08-30 05","c":8.104},{"t":"2025-08-30 06","c":8.106},{"t":"2025-08-30 07","c":8.101},{"t":"2025-08-30 08","c":8.095},{"t":"2025-08-30 09","c":8.098},{"t":"2025-08-30 10","c":8.097},{"t":"2025-08-30 11","c":8.082},{"t":"2025-08-30 12","c":8.093},{"t":"2025-08-30 13","c":8.105},{"t":"2025-08-30 14","c":8.106},{"t":"2025-08-30 15","c":8.107},{"t":"2025-08-30 16","c":8.107},{"t":"2025-08-30 17","c":8.105},{"t":"2025-08-30 18","c":8.102},{"t":"2025-08-30 19","c":8.095},{"t":"2025-08-30 20","c":8.099},{"t":"2025-08-30 21","c":8.099},{"t":"2025-08-30 22","c":8.095},{"t":"2025-08-30 23","c":8.097},
{"t":"2025-08-31 00","c":8.092},{"t":"2025-08-31 01","c":8.088},{"t":"2025-08-31 02","c":8.083},{"t":"2025-08-31 03","c":8.075},{"t":"2025-08-31 04","c":8.095},{"t":"2025-08-31 05","c":8.101},{"t":"2025-08-31 06","c":8.105},{"t":"2025-08-31 07","c":8.101},{"t":"2025-08-31 08","c":8.101},{"t":"2025-08-31 09","c":8.103},{"t":"2025-08-31 10","c":8.092},{"t":"2025-08-31 11","c":8.087},{"t":"2025-08-31 12","c":8.085},{"t":"2025-08-31 13","c":8.097},{"t":"2025-08-31 14","c":8.100},{"t":"2025-08-31 15","c":8.099},{"t":"2025-08-31 16","c":8.101},{"t":"2025-08-31 17","c":8.102},{"t":"2025-08-31 18","c":8.102},{"t":"2025-08-31 19","c":8.101},{"t":"2025-08-31 20","c":8.100},{"t":"2025-08-31 21","c":8.080},{"t":"2025-08-31 22","c":8.075},{"t":"2025-08-31 23","c":8.085},
{"t":"2025-09-01 00","c":8.079},{"t":"2025-09-01 01","c":8.093},{"t":"2025-09-01 02","c":8.101},{"t":"2025-09-01 03","c":8.103},{"t":"2025-09-01 04","c":8.104},{"t":"2025-09-01 05","c":8.104},{"t":"2025-09-01 06","c":8.102},{"t":"2025-09-01 07","c":8.103},{"t":"2025-09-01 08","c":8.101},{"t":"2025-09-01 09","c":8.101},{"t":"2025-09-01 10","c":8.085},{"t":"2025-09-01 11","c":8.092},{"t":"2025-09-01 12","c":8.092},{"t":"2025-09-01 13","c":8.101},{"t":"2025-09-01 14","c":8.103},{"t":"2025-09-01 15","c":8.106},{"t":"2025-09-01 16","c":8.099},{"t":"2025-09-01 17","c":8.051},{"t":"2025-09-01 18","c":8.108},{"t":"2025-09-01 19","c":8.104},{"t":"2025-09-01 20","c":8.103},{"t":"2025-09-01 21","c":8.103},{"t":"2025-09-01 22","c":8.102},{"t":"2025-09-01 23","c":8.088},
{"t":"2025-09-02 00","c":8.093},{"t":"2025-09-02 01","c":8.084},{"t":"2025-09-02 02","c":8.092},{"t":"2025-09-02 03","c":8.099},{"t":"2025-09-02 04","c":8.101},{"t":"2025-09-02 05","c":8.104},{"t":"2025-09-02 06","c":8.108},{"t":"2025-09-02 07","c":8.110},{"t":"2025-09-02 08","c":8.106},{"t":"2025-09-02 09","c":8.111},{"t":"2025-09-02 10","c":8.103},{"t":"2025-09-02 11","c":8.105},{"t":"2025-09-02 12","c":8.102},{"t":"2025-09-02 13","c":8.103},{"t":"2025-09-02 14","c":8.103},{"t":"2025-09-02 15","c":8.103},{"t":"2025-09-02 16","c":8.104},{"t":"2025-09-02 17","c":8.101},{"t":"2025-09-02 18","c":8.109},{"t":"2025-09-02 19","c":8.103},{"t":"2025-09-02 20","c":8.094},{"t":"2025-09-02 21","c":8.095},{"t":"2025-09-02 22","c":8.104},{"t":"2025-09-02 23","c":8.097},
{"t":"2025-09-03 00","c":8.100},{"t":"2025-09-03 01","c":8.101},{"t":"2025-09-03 02","c":8.099},{"t":"2025-09-03 03","c":8.097},{"t":"2025-09-03 04","c":8.094},{"t":"2025-09-03 05","c":8.106},{"t":"2025-09-03 06","c":8.102},{"t":"2025-09-03 07","c":8.095},{"t":"2025-09-03 08","c":8.091},{"t":"2025-09-03 09","c":8.090},{"t":"2025-09-03 10","c":8.104},{"t":"2025-09-03 11","c":8.101},{"t":"2025-09-03 12","c":8.100},{"t":"2025-09-03 13","c":8.101},{"t":"2025-09-03 14","c":8.101},{"t":"2025-09-03 15","c":8.101},{"t":"2025-09-03 16","c":8.099},{"t":"2025-09-03 17","c":8.096},{"t":"2025-09-03 18","c":8.101},{"t":"2025-09-03 19","c":8.103},{"t":"2025-09-03 20","c":8.104},{"t":"2025-09-03 21","c":8.108},{"t":"2025-09-03 22","c":8.103},{"t":"2025-09-03 23","c":8.100},
{"t":"2025-09-04 00","c":8.084},{"t":"2025-09-04 01","c":8.084},{"t":"2025-09-04 02","c":8.088},{"t":"2025-09-04 03","c":8.087},{"t":"2025-09-04 04","c":8.090},{"t":"2025-09-04 05","c":8.092},{"t":"2025-09-04 06","c":8.088},{"t":"2025-09-04 07","c":8.086},{"t":"2025-09-04 08","c":8.101},{"t":"2025-09-04 09","c":8.101},{"t":"2025-09-04 10","c":8.102},{"t":"2025-09-04 11","c":8.101},{"t":"2025-09-04 12","c":8.098},{"t":"2025-09-04 13","c":8.079},{"t":"2025-09-04 14","c":8.088},{"t":"2025-09-04 15","c":8.097},{"t":"2025-09-04 16","c":8.098},{"t":"2025-09-04 17","c":8.096},{"t":"2025-09-04 18","c":8.093},{"t":"2025-09-04 19","c":8.082},{"t":"2025-09-04 20","c":8.075},{"t":"2025-09-04 21","c":8.084},{"t":"2025-09-04 22","c":8.101},{"t":"2025-09-04 23","c":8.080},
{"t":"2025-09-05 00","c":8.082},{"t":"2025-09-05 01","c":8.093},{"t":"2025-09-05 02","c":8.091},{"t":"2025-09-05 03","c":8.104},{"t":"2025-09-05 04","c":8.107},{"t":"2025-09-05 05","c":8.101},{"t":"2025-09-05 06","c":8.099},{"t":"2025-09-05 07","c":8.090},{"t":"2025-09-05 08","c":8.098},{"t":"2025-09-05 09","c":8.078},{"t":"2025-09-05 10","c":8.082},{"t":"2025-09-05 11","c":8.083},{"t":"2025-09-05 12","c":8.089},{"t":"2025-09-05 13","c":8.094},{"t":"2025-09-05 14","c":8.098},{"t":"2025-09-05 15","c":8.097},{"t":"2025-09-05 16","c":8.097},{"t":"2025-09-05 17","c":8.102},{"t":"2025-09-05 18","c":8.100},{"t":"2025-09-05 19","c":8.101},{"t":"2025-09-05 20","c":8.097},{"t":"2025-09-05 21","c":8.098},{"t":"2025-09-05 22","c":8.090},{"t":"2025-09-05 23","c":8.065},
{"t":"2025-09-06 00","c":8.069},{"t":"2025-09-06 01","c":8.089},{"t":"2025-09-06 02","c":8.091},{"t":"2025-09-06 03","c":8.113},{"t":"2025-09-06 04","c":8.093},{"t":"2025-09-06 05","c":8.087},{"t":"2025-09-06 06","c":8.087},{"t":"2025-09-06 07","c":8.092},{"t":"2025-09-06 08","c":8.090},{"t":"2025-09-06 09","c":8.102},{"t":"2025-09-06 10","c":8.089},{"t":"2025-09-06 11","c":8.084},{"t":"2025-09-06 12","c":8.070},{"t":"2025-09-06 13","c":8.068},{"t":"2025-09-06 14","c":8.091},{"t":"2025-09-06 15","c":8.098},{"t":"2025-09-06 16","c":8.098},{"t":"2025-09-06 17","c":8.123},{"t":"2025-09-06 18","c":8.122},{"t":"2025-09-06 19","c":8.102},{"t":"2025-09-06 20","c":8.088},{"t":"2025-09-06 21","c":8.072},{"t":"2025-09-06 22","c":8.075},{"t":"2025-09-06 23","c":8.082},
{"t":"2025-09-07 00","c":8.116},{"t":"2025-09-07 01","c":8.093},{"t":"2025-09-07 02","c":8.083},{"t":"2025-09-07 03","c":8.079},{"t":"2025-09-07 04","c":8.086},{"t":"2025-09-07 05","c":8.091},{"t":"2025-09-07 06","c":8.108},{"t":"2025-09-07 07","c":8.069},{"t":"2025-09-07 08","c":8.081},{"t":"2025-09-07 09","c":8.100},{"t":"2025-09-07 10","c":8.094},{"t":"2025-09-07 11","c":8.117},{"t":"2025-09-07 12","c":8.092},{"t":"2025-09-07 13","c":8.076},{"t":"2025-09-07 14","c":8.065},{"t":"2025-09-07 15","c":8.070},{"t":"2025-09-07 16","c":8.072},{"t":"2025-09-07 17","c":8.072},{"t":"2025-09-07 18","c":8.085},{"t":"2025-09-07 19","c":8.115},{"t":"2025-09-07 20","c":8.108},{"t":"2025-09-07 21","c":8.118},{"t":"2025-09-07 22","c":8.122},{"t":"2025-09-07 23","c":8.081},
{"t":"2025-09-08 00","c":8.073},{"t":"2025-09-08 01","c":8.067},{"t":"2025-09-08 02","c":8.062},{"t":"2025-09-08 03","c":8.052},{"t":"2025-09-08 04","c":8.061},{"t":"2025-09-08 05","c":8.070},{"t":"2025-09-08 06","c":8.074},{"t":"2025-09-08 07","c":8.079},{"t":"2025-09-08 08","c":8.097},{"t":"2025-09-08 09","c":8.089},{"t":"2025-09-08 10","c":8.085},{"t":"2025-09-08 11","c":8.072},{"t":"2025-09-08 12","c":8.068},{"t":"2025-09-08 13","c":8.054},{"t":"2025-09-08 14","c":8.051},{"t":"2025-09-08 15","c":8.047},{"t":"2025-09-08 16","c":8.049},{"t":"2025-09-08 17","c":8.064},{"t":"2025-09-08 18","c":8.070},{"t":"2025-09-08 19","c":8.079},{"t":"2025-09-08 20","c":8.090},{"t":"2025-09-08 21","c":8.091},{"t":"2025-09-08 22","c":8.081},{"t":"2025-09-08 23","c":8.082},
{"t":"2025-09-09 00","c":8.061},{"t":"2025-09-09 01","c":8.039},{"t":"2025-09-09 02","c":8.046},{"t":"2025-09-09 03","c":8.038},{"t":"2025-09-09 04","c":8.041},{"t":"2025-09-09 05","c":8.054},{"t":"2025-09-09 06","c":8.059},{"t":"2025-09-09 07","c":8.078},{"t":"2025-09-09 08","c":8.084},{"t":"2025-09-09 09","c":8.095},{"t":"2025-09-09 10","c":8.098},{"t":"2025-09-09 11","c":8.093},{"t":"2025-09-09 12","c":8.082},{"t":"2025-09-09 13","c":8.063},{"t":"2025-09-09 14","c":8.045},{"t":"2025-09-09 15","c":8.033},{"t":"2025-09-09 16","c":8.038},{"t":"2025-09-09 17","c":8.048},{"t":"2025-09-09 18","c":8.048},{"t":"2025-09-09 19","c":8.075},{"t":"2025-09-09 20","c":8.093},{"t":"2025-09-09 21","c":8.094},{"t":"2025-09-09 22","c":8.095},{"t":"2025-09-09 23","c":8.091},
{"t":"2025-09-10 00","c":8.079},{"t":"2025-09-10 01","c":8.070},{"t":"2025-09-10 02","c":8.036},{"t":"2025-09-10 03","c":8.026},{"t":"2025-09-10 04","c":8.027},{"t":"2025-09-10 05","c":8.038},{"t":"2025-09-10 06","c":8.052},{"t":"2025-09-10 07","c":8.059},{"t":"2025-09-10 08","c":8.079},{"t":"2025-09-10 09","c":8.089},{"t":"2025-09-10 10","c":8.089},{"t":"2025-09-10 11","c":8.087},{"t":"2025-09-10 12","c":8.079},{"t":"2025-09-10 13","c":8.072},{"t":"2025-09-10 14","c":8.060},{"t":"2025-09-10 15","c":8.033},{"t":"2025-09-10 16","c":8.020},{"t":"2025-09-10 17","c":8.027},{"t":"2025-09-10 18","c":8.025},{"t":"2025-09-10 19","c":8.039},{"t":"2025-09-10 20","c":8.062},{"t":"2025-09-10 21","c":8.078},{"t":"2025-09-10 22","c":8.086},{"t":"2025-09-10 23","c":8.087},
{"t":"2025-09-11 00","c":8.085},{"t":"2025-09-11 01","c":8.082},{"t":"2025-09-11 02","c":8.072},{"t":"2025-09-11 03","c":8.019},{"t":"2025-09-11 04","c":7.989},{"t":"2025-09-11 05","c":8.011},{"t":"2025-09-11 06","c":8.011},{"t":"2025-09-11 07","c":8.029},{"t":"2025-09-11 08","c":8.036},{"t":"2025-09-11 09","c":8.046},{"t":"2025-09-11 10","c":8.073},{"t":"2025-09-11 11","c":8.076},{"t":"2025-09-11 12","c":8.076},{"t":"2025-09-11 13","c":8.074},{"t":"2025-09-11 14","c":8.062},{"t":"2025-09-11 15","c":8.028},{"t":"2025-09-11 16","c":8.022},{"t":"2025-09-11 17","c":7.988},{"t":"2025-09-11 18","c":7.967},{"t":"2025-09-11 19","c":8.002},{"t":"2025-09-11 20","c":8.014},{"t":"2025-09-11 21","c":8.026},{"t":"2025-09-11 22","c":8.047},{"t":"2025-09-11 23","c":8.068},
{"t":"2025-09-12 00","c":8.069},{"t":"2025-09-12 01","c":8.066},{"t":"2025-09-12 02","c":8.059},{"t":"2025-09-12 03","c":8.047},{"t":"2025-09-12 04","c":8.028},{"t":"2025-09-12 05","c":8.010},{"t":"2025-09-12 06","c":8.007},{"t":"2025-09-12 07","c":7.993},{"t":"2025-09-12 08","c":8.011},{"t":"2025-09-12 09","c":8.039},{"t":"2025-09-12 10","c":8.047},{"t":"2025-09-12 11","c":8.057},{"t":"2025-09-12 12","c":8.060},{"t":"2025-09-12 13","c":8.057},{"t":"2025-09-12 14","c":8.054},{"t":"2025-09-12 15","c":8.074},{"t":"2025-09-12 16","c":8.033},{"t":"2025-09-12 17","c":7.983},{"t":"2025-09-12 18","c":8.008},{"t":"2025-09-12 19","c":8.016},{"t":"2025-09-12 20","c":8.000},{"t":"2025-09-12 21","c":8.023},{"t":"2025-09-12 22","c":8.049},{"t":"2025-09-12 23","c":8.058},
{"t":"2025-09-13 00","c":8.056},{"t":"2025-09-13 01","c":8.056},{"t":"2025-09-13 02","c":8.057},{"t":"2025-09-13 03","c":8.070},{"t":"2025-09-13 04","c":8.077},{"t":"2025-09-13 05","c":8.045},{"t":"2025-09-13 06","c":8.014},{"t":"2025-09-13 07","c":8.006},{"t":"2025-09-13 08","c":8.013},{"t":"2025-09-13 09","c":8.016},{"t":"2025-09-13 10","c":8.054},{"t":"2025-09-13 11","c":8.074},{"t":"2025-09-13 12","c":8.063},{"t":"2025-09-13 13","c":8.059},{"t":"2025-09-13 14","c":8.059},{"t":"2025-09-13 15","c":8.068},{"t":"2025-09-13 16","c":8.066},{"t":"2025-09-13 17","c":8.016},{"t":"2025-09-13 18","c":8.008},{"t":"2025-09-13 19","c":7.950},{"t":"2025-09-13 20","c":7.979},{"t":"2025-09-13 21","c":8.002},{"t":"2025-09-13 22","c":8.006},{"t":"2025-09-13 23","c":8.033},
{"t":"2025-09-14 00","c":8.076},{"t":"2025-09-14 01","c":8.076},{"t":"2025-09-14 02","c":8.066},{"t":"2025-09-14 03","c":8.068},{"t":"2025-09-14 04","c":8.039},{"t":"2025-09-14 05","c":8.074},{"t":"2025-09-14 06","c":8.047},{"t":"2025-09-14 07","c":8.045},{"t":"2025-09-14 08","c":8.034},{"t":"2025-09-14 09","c":8.024},{"t":"2025-09-14 10","c":8.035}
]},
"mark":{"type":"line","color":"#0072BD","strokeWidth":1.3,"interpolate":"linear"},
"encoding":{
"x":{"field":"t","type":"temporal",
"scale":{"domain":[{"year":2025,"month":7,"date":30,"hours":6},{"year":2025,"month":9,"date":14,"hours":10,"minutes":48}],"nice":false},
"axis":{"orient":"bottom","title":null,"grid":false,
"values":[{"year":2025,"month":7,"date":30,"hours":6},{"year":2025,"month":8,"date":6,"hours":22,"minutes":48},{"year":2025,"month":8,"date":14,"hours":15,"minutes":36},{"year":2025,"month":8,"date":22,"hours":8,"minutes":24},{"year":2025,"month":8,"date":30,"hours":1,"minutes":12},{"year":2025,"month":9,"date":6,"hours":18},{"year":2025,"month":9,"date":14,"hours":10,"minutes":48}],
"labelExpr":"[timeFormat(datum.value, '%d %b'), '\u2800\u2800\u2800\u28002025']",
"labelFont":"DejaVu Sans Mono","labelFontSize":20,"labelColor":"#262626","labelAlign":"center","labelBaseline":"top","labelLineHeight":28,"labelOffset":-9,
"labelPadding":36,"tickSize":-30,"tickColor":"#262626","tickWidth":1,"domainColor":"#262626","domainWidth":1.2,
"labelFlush":false,"labelOverlap":false,"labelBound":false}},
"y":{"field":"c","type":"quantitative",
"scale":{"domain":[7.9,8.3],"nice":false,"zero":false},
"axis":{"orient":"left","grid":false,"values":[7.9,7.95,8,8.05,8.1,8.15,8.2,8.25,8.3],"format":"~g",
"labelFont":"DejaVu Sans Mono","labelFontSize":20,"labelColor":"#262626","labelPadding":35,"tickSize":-30,"tickColor":"#262626","tickWidth":1,"domainColor":"#262626","domainWidth":1.2,
"labelFlush":false,"labelOverlap":false,"labelBound":false,
"title":"celsius","titleFont":"DejaVu Sans Mono","titleFontSize":40,"titleFontWeight":"normal","titleColor":"#000000","titlePadding":9}}
}
},
{
"data":{"values":[{}]},
"mark":{"type":"rule","opacity":0},
"encoding":{
"y":{"datum":46.6,"type":"quantitative",
"scale":{"domain":[46.22,46.94],"nice":false,"zero":false},
"axis":{"orient":"right","grid":false,"values":[46.3,46.4,46.5,46.6,46.7,46.8,46.9],"format":"~g",
"labelFont":"DejaVu Sans Mono","labelFontSize":20,"labelColor":"#262626","labelPadding":35,"tickSize":-30,"tickColor":"#262626","tickWidth":1,"domainColor":"#262626","domainWidth":1.2,
"labelFlush":false,"labelOverlap":false,"labelBound":false,
"title":"fahrenheit","titleFont":"DejaVu Sans Mono","titleFontSize":40,"titleFontWeight":"normal","titleColor":"#000000","titleAngle":270,"titleBaseline":"top","titlePadding":10}}
}
}
],
"resolve":{"scale":{"y":"independent"}}
}
